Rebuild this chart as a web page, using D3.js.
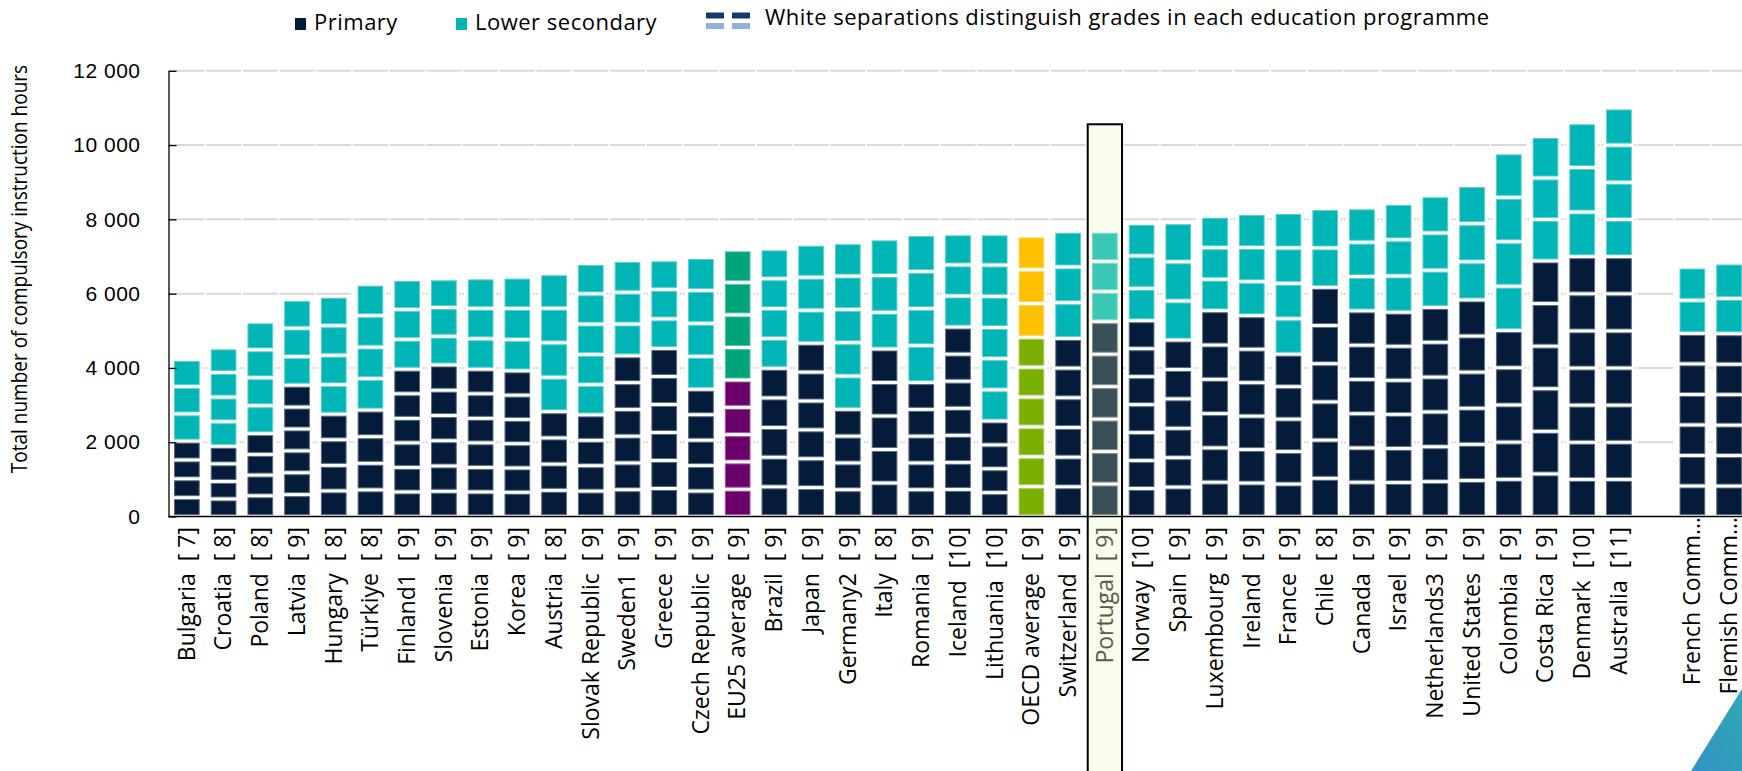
<!DOCTYPE html>
<html>
<head>
<meta charset="utf-8">
<script src="https://cdn.jsdelivr.net/npm/d3@7"></script>
<style>
	body { margin: 0; background: #fff; }
	svg { display: block; font-family: "Open Sans", sans-serif; }
</style>
</head>
<body>
<script>

// values (hours, cumulative per programme)
var countries = ["Bulgaria", "Croatia", "Poland", "Latvia", "Hungary", "Türkiye", "Finland1", "Slovenia", "Estonia", "Korea",
	"Austria", "Slovak Republic", "Sweden1", "Greece", "Czech Republic", "EU25 average", "Brazil", "Japan", "Germany2", "Italy",
	"Romania", "Iceland", "Lithuania", "OECD average", "Switzerland", "Portugal", "Norway", "Spain", "Luxembourg", "Ireland",
	"France", "Chile", "Canada", "Israel", "Netherlands3", "United States", "Colombia", "Costa Rica", "Denmark", "Australia",
	"French Comm…", "Flemish Comm…"];
var grades = [7, 8, 8, 9, 8, 8, 9, 9, 9, 9,
	8, 9, 9, 9, 9, 9, 9, 9, 9, 8,
	9, 10, 10, 9, 9, 9, 10, 9, 9, 9,
	9, 8, 9, 9, 9, 9, 9, 9, 10, 11,
	8, 8];
var primaryGrades = [4, 4, 4, 6, 4, 4, 6, 6, 6, 6,
	4, 4, 6, 6, 5, 5, 5, 6, 4, 5,
	5, 7, 4, 6, 6, 6, 7, 6, 6, 6,
	5, 6, 6, 6, 6, 6, 5, 6, 7, 7,
	6, 6];
var primaryHours = [2030, 1890, 2230, 3535, 2755, 2865, 3965, 4080, 3965, 3920,
	2820, 2735, 4325, 4525, 3425, 3675, 3990, 4665, 2885, 4510,
	3605, 5100, 2570, 4825, 4795, 5245, 5270, 4750, 5540, 5405,
	4370, 6170, 5535, 5500, 5630, 5830, 5005, 6880, 6995, 6995,
	4930, 4920];
var lowerSecHours = [2200, 2650, 3010, 2305, 3175, 3390, 2415, 2320, 2460, 2525,
	3715, 4075, 2570, 2385, 3550, 3505, 3215, 2665, 4485, 2965,
	3985, 2510, 5040, 2730, 2885, 2435, 2620, 3160, 2545, 2755,
	3815, 2120, 2775, 2925, 3005, 3080, 4785, 3350, 3605, 4005,
	1785, 1905];
var yTicks = [0, 2000, 4000, 6000, 8000, 10000, 12000];
var legendLabels = ["Primary", "Lower secondary", "White separations distinguish grades in each education programme"];
var yTitle = "Total number of compulsory instruction hours";
var gapAfter = "Australia";
var highlighted = "Portugal";

// styling
var colors = { primary: "#041b39", lower: "#00b5b6" };
var special = {
	"EU25 average": { primary: "#6c006b", lower: "#00a37a" },
	"OECD average": { primary: "#7aae00", lower: "#ffc000" },
	"Portugal": { primary: "#3a5058", lower: "#3ac8b4" }
};

var width = 1742, height = 771;

var svg = d3.select("body").append("svg")
	.attr("width", width)
	.attr("height", height);

var slots = [];
countries.forEach(function(c) {
	slots.push(c);
	if (c == gapAfter) slots.push("_gap");
});

var x = d3.scaleBand()
	.domain(slots)
	.range([168.5, 168.5 + slots.length * 36.72])
	.paddingInner(0.3)
	.paddingOuter(0.15);
var y = d3.scaleLinear().domain([0, 12000]).range([516.5, 70.8]);
var bw = x.bandwidth();

function total(name) {
	var i = countries.indexOf(name);
	return i < 0 ? 0 : primaryHours[i] + lowerSecHours[i];
}

// gridlines, broken at each category, dotted between bars
var grid = svg.append("g");
yTicks.filter(function(t) { return t > 0; }).forEach(function(t) {
	slots.forEach(function(s) {
		var left = x(s) - x.step() * 0.15;
		if (total(s) > t) {
			grid.append("line")
				.attr("x1", x(s) + bw + 3).attr("x2", x(s) + bw + x.step() * 0.3 - 3)
				.attr("y1", y(t)).attr("y2", y(t))
				.attr("stroke", "#cfcfcf").attr("stroke-width", 2)
				.attr("stroke-dasharray", "1.5,1.5");
		} else {
			grid.append("line")
				.attr("x1", left + 0.8).attr("x2", left + x.step() - 0.8)
				.attr("y1", y(t)).attr("y2", y(t))
				.attr("stroke", "#d9d9d9").attr("stroke-width", 2);
		}
	});
});

// highlight box behind Portugal
svg.append("rect")
	.attr("x", x(highlighted) - 4.3)
	.attr("y", y(10560))
	.attr("width", bw + 8.6)
	.attr("height", height)
	.attr("fill", "#f8fcec")
	.attr("stroke", "#000")
	.attr("stroke-width", 2);

// one rect per grade
var segs = [];
countries.forEach(function(c, i) {
	var col = special[c] || colors;
	var pg = primaryGrades[i], lg = grades[i] - pg;
	for (var k = 0; k < pg; k++) {
		segs.push({ c: c, y0: primaryHours[i] * k / pg, y1: primaryHours[i] * (k + 1) / pg, color: col.primary });
	}
	for (var k = 0; k < lg; k++) {
		segs.push({ c: c, y0: primaryHours[i] + lowerSecHours[i] * k / lg, y1: primaryHours[i] + lowerSecHours[i] * (k + 1) / lg, color: col.lower });
	}
});

svg.append("g").selectAll("rect")
	.data(segs)
	.enter().append("rect")
	.attr("x", function(d) { return x(d.c) + 0.5; })
	.attr("width", bw - 1)
	.attr("y", function(d) { return y(d.y1) + 2; })
	.attr("height", function(d) { return Math.max(0, y(d.y0) - y(d.y1) - 4); })
	.attr("fill", function(d) { return d.color; })
	.attr("stroke", function(d) { return d3.interpolateRgb(d.color, "#fff")(0.35); })
	.attr("stroke-width", 1);

// axes
var yAxis = d3.axisLeft(y)
	.tickValues(yTicks)
	.tickSize(-8)
	.tickSizeOuter(0)
	.tickPadding(28)
	.tickFormat(function(d) { return d3.format(",")(d).replace(",", " "); });

var ya = svg.append("g")
	.attr("transform", "translate(168.5,0)")
	.call(yAxis);
ya.selectAll("text").style("font-size", "21px").style("letter-spacing", "0.5px").attr("fill", "#000");
ya.selectAll("line").attr("stroke", "#000").attr("stroke-width", 1.3);
ya.select(".domain").attr("stroke", "#000").attr("stroke-width", 1.3);

svg.append("line")
	.attr("x1", 168.5).attr("x2", width)
	.attr("y1", y(0)).attr("y2", y(0))
	.attr("stroke", "#000").attr("stroke-width", 1.5);

// category labels
svg.append("g").selectAll("text")
	.data(countries)
	.enter().append("text")
	.attr("transform", function(d) {
		var trunc = d.slice(-1) == "…";
		return "translate(" + (x(d) + bw / 2) + "," + (trunc ? 517 : 527) + ") rotate(-90)";
	})
	.attr("dy", "0.34em")
	.attr("text-anchor", "end")
	.style("font-size", "23px")
	.style("white-space", "pre")
	.attr("fill", function(d) { return d == highlighted ? "#5a5a4c" : "#000"; })
	.text(function(d, i) {
		if (d.slice(-1) == "…") return d;
		var g = grades[i] < 10 ? " " + grades[i] : "" + grades[i];
		return d + "  [" + g + "]";
	});

svg.append("text")
	.attr("transform", "translate(27,269) scale(1.15,1) rotate(-90)")
	.attr("text-anchor", "middle")
	.style("font-size", "19px")
	.text(yTitle);

// legend
var leg = svg.append("g").style("font-size", "22px").style("letter-spacing", "0.5px");
leg.append("rect").attr("x", 295).attr("y", 18).attr("width", 11).attr("height", 12).attr("fill", colors.primary);
leg.append("text").attr("x", 314).attr("y", 30).text(legendLabels[0]);
leg.append("rect").attr("x", 456).attr("y", 18).attr("width", 11).attr("height", 12).attr("fill", colors.lower);
leg.append("text").attr("x", 475).attr("y", 30).text(legendLabels[1]);
[706, 732].forEach(function(px) {
	leg.append("rect").attr("x", px).attr("y", 12.5).attr("width", 18).attr("height", 6).attr("fill", "#17386f");
	leg.append("rect").attr("x", px).attr("y", 23).attr("width", 18).attr("height", 6).attr("fill", "#8eb0dc");
});
leg.append("text").attr("x", 765).attr("y", 25).text(legendLabels[2]);

// template corner
var grad = svg.append("defs").append("linearGradient")
	.attr("id", "corner").attr("x1", "1").attr("y1", "0").attr("x2", "0").attr("y2", "1");
grad.append("stop").attr("offset", "0").attr("stop-color", "#2eaab3");
grad.append("stop").attr("offset", "1").attr("stop-color", "#3590c4");
svg.append("polygon")
	.attr("points", "1691,771 1742,689 1742,771")
	.attr("fill", "url(#corner)");

</script>
</body>
</html>
